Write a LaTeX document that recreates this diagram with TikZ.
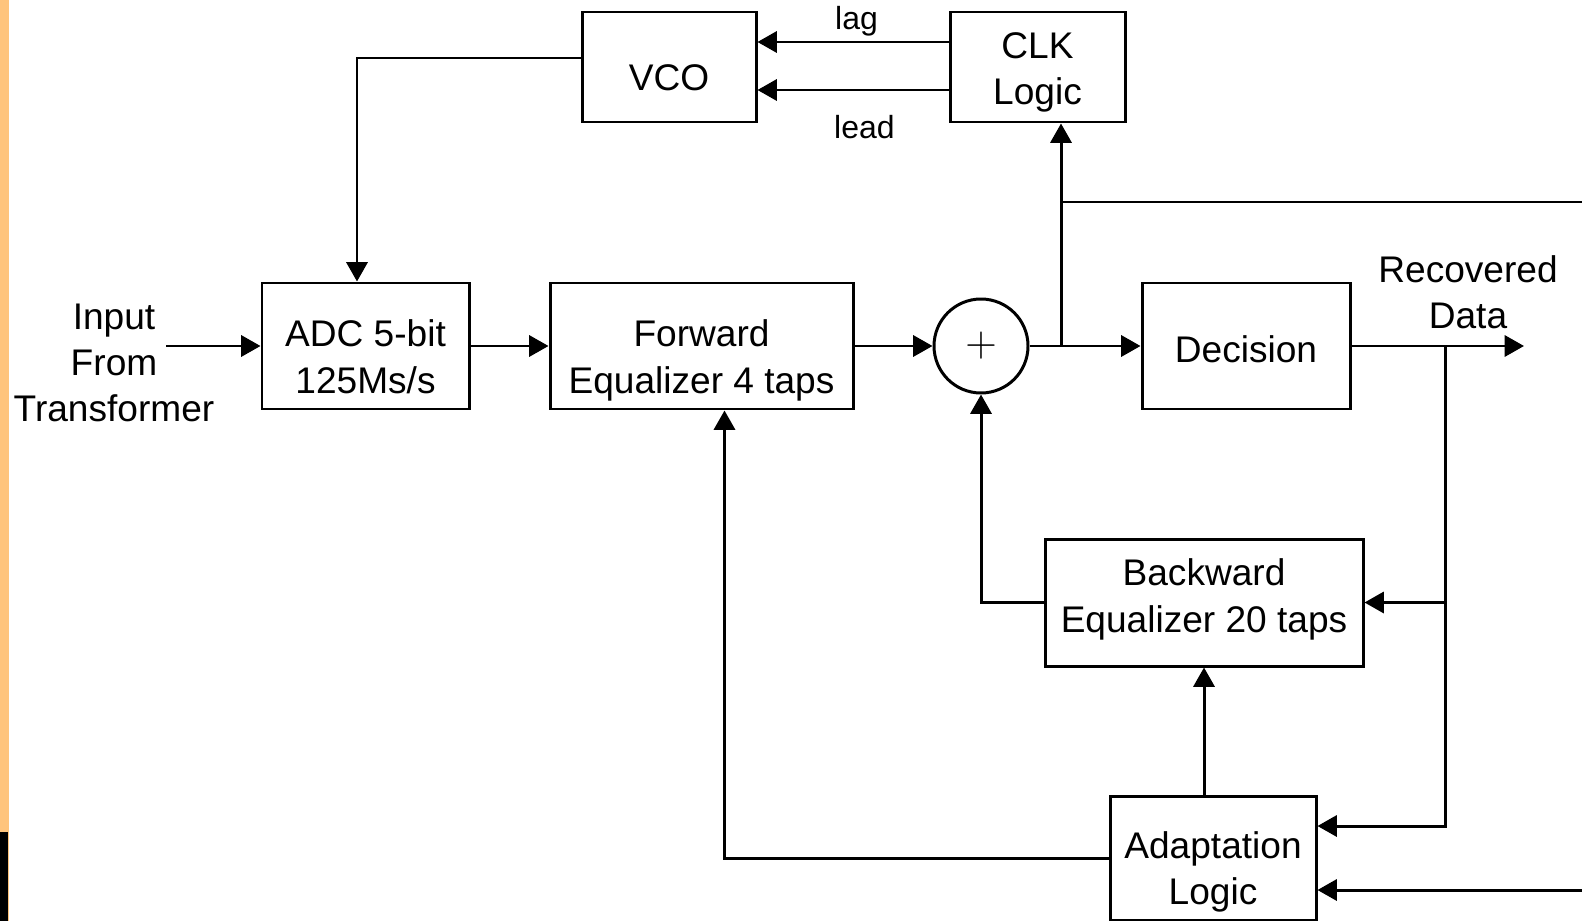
\documentclass[tikz,border=0pt]{standalone}
\usepackage{fontspec}
\setmainfont{Liberation Sans}
\usetikzlibrary{arrows.meta,positioning,calc}
\definecolor{cStrip}{HTML}{FFC47C}

\begin{document}
\begin{tikzpicture}[
    font=\fontsize{21.1}{26.2}\selectfont,
    line width=1.7pt,
    >={Triangle[length=11pt,width=12pt]},
    every node/.style={align=center},
    blk/.style={draw, minimum height=2.52cm, inner sep=2pt},
    txt/.style={text height=#1, text depth=0pt},
    tag/.style={font=\fontsize{18.2}{20}\selectfont},
]
\useasboundingbox (0,0) rectangle (31.64,-18.42);

% ---- left page strip ----
\fill[cStrip] (0,0) rectangle (0.17,-18.42);
\fill[black] (0,-16.64) rectangle (0.16,-18.42);

% ---- clock recovery ----
\node[blk, minimum width=3.48cm, minimum height=2.2cm, txt=0.96cm]
      (vco) at (13.38,-1.34) {VCO};
\node[blk, minimum width=3.5cm, minimum height=2.2cm, txt=1.52cm]
      (clk) at (20.75,-1.34) {CLK\\Logic};

% ---- forward path ----
\node (inp) at (2.28,-7.26) {Input\\From\\Transformer};
\coordinate (inpEnd) at (3.32,-6.92);
\node[blk, minimum width=4.14cm, txt=1.88cm] (adc) at (7.31,-6.92) {ADC 5-bit\\125Ms/s};
\node[blk, minimum width=6.06cm, txt=1.88cm] (fwd) at (14.03,-6.92) {Forward\\Equalizer 4 taps};
\node[draw, circle, minimum size=1.88cm, inner sep=0pt,
      font=\fontsize{25}{25}\selectfont] (sum) at (19.62,-6.92) {$+$};
\node[blk, minimum width=4.16cm, txt=0.66cm] (dec) at (24.92,-6.92) {Decision};
\node (rec) at (29.36,-5.85) {Recovered\\Data};
\coordinate (out) at (30.48,-6.92);

% ---- feedback path ----
\node[blk, minimum width=6.36cm, minimum height=2.54cm, txt=1.18cm]
      (bwd) at (24.08,-12.05) {Backward\\Equalizer 20 taps};
\node[blk, minimum width=4.12cm, minimum height=2.48cm, txt=1.86cm]
      (ada) at (24.26,-17.16) {Adaptation\\Logic};

% ---- branch points ----
\coordinate (tap) at (21.22,-6.92);
\coordinate (fb) at (28.9,-6.92);
\coordinate (edgeA) at (31.64,-4.04);
\coordinate (edgeB) at (31.64,-17.8);
\coordinate (adaIn1) at ($(ada.east)+(0,0.64)$);
\coordinate (adaIn2) at ($(ada.east)+(0,-0.64)$);

% ---- arrows: clock loop ----
\draw[->] ($(clk.west)+(0,0.5)$) -- node[above, tag, yshift=-1pt, xshift=2pt]
      {lag} ($(vco.east)+(0,0.5)$);
\draw[->] ($(clk.west)+(0,-0.46)$) -- node[below=0.36cm, tag, xshift=6.5pt]
      {lead} ($(vco.east)+(0,-0.46)$);
\draw[->] ($(vco.west)+(0,0.18)$) -| ($(adc.north)+(-0.17,0)$);
\draw[->] (tap) -- (tap |- clk.south);
\draw (tap |- edgeA) -- (edgeA);

% ---- arrows: forward path ----
\draw[->] (inpEnd) -- (adc.west);
\draw[->] (adc) -- (fwd);
\draw[->] (fwd) -- (sum);
\draw[->] (sum) -- (dec);
\draw[->] (dec.east) -- (out);

% ---- arrows: feedback ----
\draw[->] (fb) |- (adaIn1);
\draw[->] (fb |- bwd.east) -- (bwd.east);
\draw[->] (edgeB) -- (adaIn2);
\draw[->] (bwd.west) -| (sum.south);
\draw[->] (ada.north -| bwd.south) -- (bwd.south);
\draw[->] (ada.west) -| ($(fwd.south)+(0.46,0)$);

\end{tikzpicture}
\end{document}
